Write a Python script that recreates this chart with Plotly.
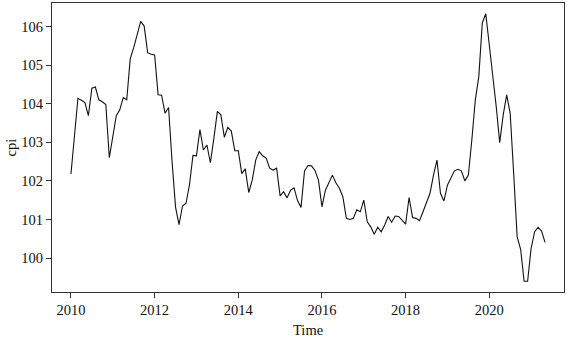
import plotly.graph_objects as go

start_year = 2010
start_month = 1
cpi = [
    102.18, 103.16, 104.14, 104.09, 104.03, 103.69, 104.40, 104.43, 104.10, 104.05, 103.98, 102.60,
    103.20, 103.69, 103.84, 104.16, 104.10, 105.16, 105.45, 105.78, 106.13, 106.01, 105.32, 105.28,
    105.26, 104.23, 104.22, 103.75, 103.90, 102.51, 101.32, 100.87, 101.35, 101.42, 101.90, 102.66,
    102.65, 103.33, 102.80, 102.93, 102.47, 103.10, 103.80, 103.71, 103.13, 103.39, 103.29, 102.78,
    102.78, 102.19, 102.31, 101.70, 102.02, 102.54, 102.76, 102.65, 102.59, 102.33, 102.28, 102.33,
    101.61, 101.72, 101.56, 101.76, 101.82, 101.49, 101.31, 102.26, 102.40, 102.39, 102.27, 102.02,
    101.33, 101.76, 101.94, 102.15, 101.95, 101.81, 101.59, 101.03, 101.00, 101.03, 101.25, 101.20,
    101.50, 100.94, 100.81, 100.62, 100.80, 100.68, 100.86, 101.08, 100.93, 101.09, 101.08, 100.99,
    100.88, 101.57, 101.05, 101.03, 100.97, 101.20, 101.46, 101.68, 102.15, 102.54, 101.68, 101.48,
    101.89, 102.07, 102.26, 102.30, 102.26, 102.00, 102.15, 103.06, 104.10, 104.70, 106.09, 106.33,
    105.55, 104.74, 103.92, 102.99, 103.71, 104.23, 103.75, 102.20, 100.55, 100.23, 99.40, 99.40,
    100.25, 100.68, 100.80, 100.70, 100.41,
]
x_ticks = [2010, 2012, 2014, 2016, 2018, 2020]
y_ticks = [100, 101, 102, 103, 104, 105, 106]

time = [start_year + (start_month - 1 + i) / 12 for i in range(len(cpi))]

# R-style 4% axis expansion
xmin, xmax = min(time), max(time)
ymin, ymax = min(cpi), max(cpi)
xpad = (xmax - xmin) * 0.04
ypad = (ymax - ymin) * 0.04

font = "Liberation Serif, Times New Roman, serif"

fig = go.Figure()
fig.add_trace(go.Scatter(x=time, y=cpi, mode="lines",
                         line=dict(color="#111111", width=1.1),
                         hoverinfo="skip", showlegend=False))

fig.update_layout(
    width=567, height=337,
    margin=dict(l=52, r=3, t=3, b=45),
    paper_bgcolor="white", plot_bgcolor="white",
    font=dict(family=font, size=14, color="#111111"),
    xaxis=dict(range=[xmin - xpad, xmax + xpad], tickvals=x_ticks,
               ticktext=[str(v) for v in x_ticks],
               ticks="outside", ticklen=5, tickwidth=1, tickcolor="#333333",
               showline=True, linecolor="#333333", linewidth=1, mirror=True,
               showgrid=False, zeroline=False, tickfont=dict(size=14.5)),
    yaxis=dict(range=[ymin - ypad, ymax + ypad], tickvals=y_ticks,
               ticktext=[str(v) for v in y_ticks],
               ticks="outside", ticklen=5, tickwidth=1, tickcolor="#333333",
               showline=True, linecolor="#333333", linewidth=1, mirror=True,
               showgrid=False, zeroline=False, tickfont=dict(size=14.5)),
    annotations=[
        dict(text="Time", xref="paper", yref="paper", x=0.5, y=0,
             xanchor="center", yanchor="middle", yshift=-38, showarrow=False,
             font=dict(family=font, size=14.5)),
        dict(text="cpi", xref="paper", yref="paper", x=0, y=0.5,
             xanchor="center", yanchor="middle", xshift=-42, textangle=-90,
             showarrow=False, font=dict(family=font, size=14.5)),
    ],
)

fig.write_html("out.html",
               config={"displayModeBar": False},
               post_script="document.body.style.margin='0';document.body.style.overflow='hidden';")
